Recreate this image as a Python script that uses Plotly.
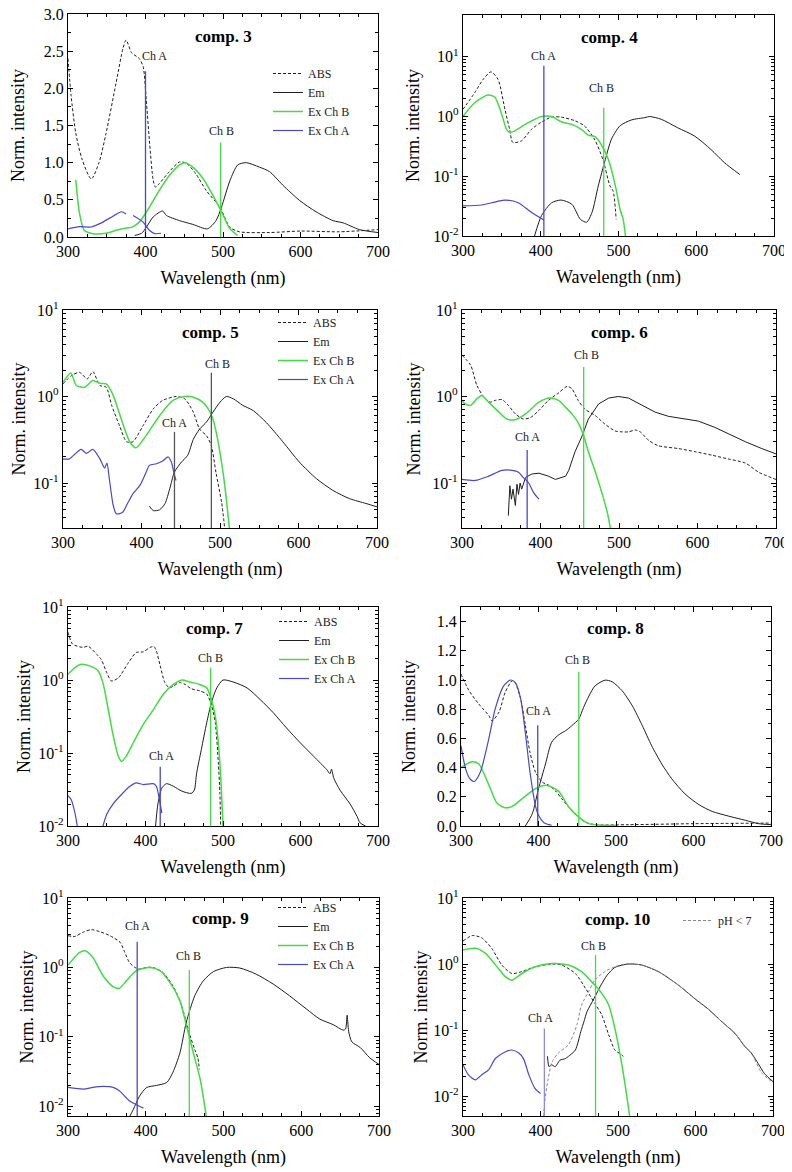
import math
import plotly.graph_objects as go

OFF = 8                      # default page margin of the html body
W, H = 792 - OFF, 1172 - OFF
FONT = "'Liberation Serif', 'Times New Roman', Times, serif"
BLACK = "#1e1e1e"
GREEN = "#42dc42"
BLUE = "#4848cc"
GRAY = "#555555"
LBLUE = "#8c8ce8"

# ---------------- comp. 3 ----------------
C3_ABS_X = [300, 304, 310, 318, 330, 340, 349, 362, 371, 375, 382, 392, 397, 401, 405, 410, 413, 418, 430, 444, 453, 465, 478, 496, 509, 521, 560, 600, 650, 700]
C3_ABS_Y = [2.4, 1.9, 1.4, 1.05, 0.78, 1.0, 1.39, 2.07, 2.54, 2.65, 2.48, 2.4, 2.29, 1.84, 1.30, 0.76, 0.67, 0.72, 0.87, 1.01, 0.99, 0.85, 0.63, 0.40, 0.13, 0.07, 0.06, 0.08, 0.07, 0.10]
C3_EM_X = [386, 395, 401, 410, 422, 427, 444, 461, 480, 491, 498, 509, 519, 530, 547, 560, 577, 599, 620, 642, 655, 676, 700]
C3_EM_Y = [0.02, 0.05, 0.13, 0.27, 0.35, 0.29, 0.22, 0.17, 0.11, 0.22, 0.40, 0.76, 0.97, 1.0, 0.94, 0.88, 0.70, 0.49, 0.34, 0.22, 0.19, 0.10, 0.06]
C3_EXB_X = [310, 315, 321, 332, 349, 362, 375, 382, 392, 405, 418, 431, 444, 451, 461, 474, 487, 498, 509, 519]
C3_EXB_Y = [0.77, 0.31, 0.09, 0.045, 0.05, 0.09, 0.12, 0.13, 0.20, 0.40, 0.63, 0.83, 0.97, 1.0, 0.94, 0.79, 0.56, 0.34, 0.11, 0.02]
C3_EXA_X = [300, 315, 330, 341, 358, 369, 375, None, 384, 397, 405, 412, 420]
C3_EXA_Y = [0.11, 0.14, 0.135, 0.18, 0.28, 0.34, 0.31, None, 0.29, 0.20, 0.09, 0.045, 0.05]
C3_CH_X = [400, 497]
C3_CH_TOP = [2.23, 1.27]

# ---------------- comp. 4 ----------------
C4_ABS_X = [300, 315, 326, 336, 345, 354, 360, 364, 375, 388, 401, 414, 426, 444, 456, 469, 480, 489, 493, 497]
C4_ABS_Y = [1.32, 2.5, 4.2, 5.6, 4.2, 1.3, 0.61, 0.37, 0.39, 0.61, 0.81, 0.98, 0.98, 0.85, 0.70, 0.42, 0.19, 0.069, 0.057, 0.019]
C4_EM_X = [392, 401, 414, 426, 440, 451, 459, 466, 474, 483, 491, 502, 517, 534, 540, 555, 576, 598, 619, 636, 656]
C4_EM_Y = [0.01, 0.022, 0.036, 0.040, 0.034, 0.019, 0.017, 0.025, 0.069, 0.19, 0.42, 0.70, 0.88, 0.96, 1.0, 0.90, 0.65, 0.47, 0.28, 0.17, 0.107]
C4_EXB_X = [300, 315, 332, 341, 349, 356, 360, 366, 384, 401, 414, 427, 440, 453, 461, 470, 479, 487, 496, 502, 506, 509]
C4_EXB_Y = [1.0, 1.7, 2.3, 2.1, 1.17, 0.61, 0.54, 0.57, 0.79, 1.0, 1.0, 0.81, 0.74, 0.60, 0.49, 0.46, 0.32, 0.19, 0.069, 0.028, 0.019, 0.0099]
C4_EXA_X = [300, 324, 341, 354, 371, 388, 404]
C4_EXA_Y = [0.032, 0.033, 0.037, 0.040, 0.036, 0.025, 0.0185]
C4_CH_X = [404, 481]
C4_CH_TOP = [7.1, 1.41]

# ---------------- comp. 5 ----------------
C5_ABS_X = [300, 311, 321, 331, 338, 347, 355, 362, 372, 381, 389, 402, 415, 427, 444, 455, 466, 474, 483, 489, 495, 502, 506]
C5_ABS_Y = [1.4, 1.75, 1.9, 1.6, 1.94, 1.34, 1.28, 0.79, 0.46, 0.30, 0.30, 0.46, 0.72, 0.90, 1.0, 0.94, 0.66, 0.42, 0.35, 0.27, 0.13, 0.06, 0.03]
C5_EM_X = [410, 415, 423, 430, 436, 442, 451, 459, 466, 474, 483, 491, 500, 508, 517, 529, 542, 559, 580, 601, 623, 644, 665, 686, 700]
C5_EM_Y = [0.054, 0.048, 0.049, 0.058, 0.086, 0.134, 0.175, 0.21, 0.32, 0.42, 0.51, 0.66, 0.86, 1.0, 0.94, 0.79, 0.69, 0.50, 0.30, 0.175, 0.112, 0.082, 0.066, 0.058, 0.053]
C5_EXB_X = [300, 310, 317, 328, 338, 347, 355, 364, 372, 385, 393, 406, 423, 440, 455, 466, 478, 485, 491, 497, 504, 508, 512]
C5_EXB_Y = [1.46, 1.87, 1.34, 1.28, 1.53, 1.42, 1.40, 1.03, 0.63, 0.30, 0.255, 0.355, 0.60, 0.90, 1.0, 0.98, 0.86, 0.72, 0.55, 0.32, 0.13, 0.066, 0.03]
C5_EXA_X = [300, 308, 323, 330, 338, 347, 353, 356, 359, 364, 368, 376, 383, 389, 398, 406, 410, 419, 427, 434, 438, 442, 444]
C5_EXA_Y = [0.19, 0.19, 0.245, 0.22, 0.245, 0.19, 0.149, 0.17, 0.112, 0.055, 0.044, 0.046, 0.06, 0.075, 0.094, 0.134, 0.16, 0.167, 0.18, 0.2, 0.175, 0.123, 0.107]
C5_CH_X = [442, 489]
C5_CH_TOP = [0.39, 1.88]

# ---------------- comp. 6 ----------------
C6_ABS_X = [300, 311, 319, 328, 336, 342, 351, 359, 368, 378, 387, 398, 410, 423, 434, 440, 448, 457, 470, 482, 495, 504, 512, 521, 527, 538, 550, 576, 597, 618, 639, 661, 678, 700]
C6_ABS_Y = [3.0, 2.3, 1.34, 0.98, 0.86, 0.90, 0.92, 0.79, 0.63, 0.55, 0.57, 0.69, 0.90, 1.10, 1.31, 1.23, 0.90, 0.71, 0.60, 0.48, 0.40, 0.39, 0.39, 0.41, 0.39, 0.31, 0.27, 0.25, 0.23, 0.21, 0.19, 0.17, 0.133, 0.11]
C6_EM_X = [359, 361, 363, 365, 368, 370, 372, 374, 376, 381, 389, 398, 410, 419, 432, 436, 444, 453, 461, 474, 487, 499, 512, 529, 546, 563, 584, 601, 622, 639, 661, 682, 700]
C6_EM_Y = [0.042, 0.093, 0.065, 0.085, 0.055, 0.097, 0.074, 0.10, 0.085, 0.116, 0.127, 0.13, 0.12, 0.11, 0.12, 0.14, 0.23, 0.35, 0.55, 0.82, 0.96, 1.0, 0.96, 0.79, 0.66, 0.59, 0.55, 0.52, 0.44, 0.37, 0.30, 0.25, 0.217]
C6_EXB_X = [300, 304, 311, 319, 325, 334, 347, 357, 368, 381, 398, 412, 423, 432, 440, 448, 455, 461, 470, 478, 485, 489]
C6_EXB_Y = [0.90, 0.82, 0.79, 0.94, 1.03, 0.86, 0.66, 0.55, 0.54, 0.63, 0.86, 0.96, 0.90, 0.75, 0.63, 0.50, 0.35, 0.23, 0.133, 0.078, 0.046, 0.03]
C6_EXA_X = [300, 317, 334, 351, 364, 372, 378, 385, 391, 398]
C6_EXA_Y = [0.11, 0.107, 0.12, 0.14, 0.14, 0.133, 0.116, 0.10, 0.078, 0.065]
C6_CH_X = [383, 455]
C6_CH_TOP = [0.24, 2.2]

# ---------------- comp. 7 ----------------
C7_ABS_X = [300, 306, 319, 326, 337, 343, 350, 356, 365, 378, 388, 397, 406, 411, 414, 419, 425, 431, 436, 444, 451, 459, 470, 479, 485, 490, 494, 496, 497]
C7_ABS_Y = [4.5, 3.1, 2.8, 2.9, 2.25, 1.9, 1.26, 0.97, 1.07, 1.73, 2.38, 2.43, 2.8, 2.87, 2.5, 1.56, 0.92, 0.78, 0.83, 0.92, 0.87, 0.76, 0.71, 0.64, 0.46, 0.26, 0.073, 0.028, 0.01]
C7_EM_X = [413, 416, 421, 427, 436, 447, 459, 463, 466, 472, 479, 485, 492, 500, 513, 531, 548, 565, 582, 600, 617, 634, 638, 640, 643, 651, 664, 673, 677, 684]
C7_EM_Y = [0.01, 0.020, 0.033, 0.038, 0.035, 0.030, 0.028, 0.031, 0.053, 0.111, 0.26, 0.49, 0.78, 1.0, 0.94, 0.78, 0.54, 0.355, 0.22, 0.137, 0.09, 0.059, 0.052, 0.06, 0.045, 0.031, 0.020, 0.0135, 0.011, 0.01]
C7_EXB_X = [300, 309, 317, 328, 339, 345, 352, 358, 365, 369, 375, 384, 397, 410, 423, 436, 447, 457, 470, 479, 485, 490, 494, 497, 500]
C7_EXB_Y = [1.2, 1.48, 1.64, 1.56, 1.33, 0.92, 0.39, 0.18, 0.09, 0.077, 0.09, 0.137, 0.245, 0.39, 0.64, 0.87, 1.0, 0.94, 0.87, 0.78, 0.54, 0.32, 0.137, 0.048, 0.01]
C7_EXA_X = [300, 304, 309, 312, None, 345, 350, 358, 369, 380, 388, 397, 410, 414, 419, 421]
C7_EXA_Y = [0.026, 0.023, 0.015, 0.0099, None, 0.0099, 0.0145, 0.020, 0.027, 0.035, 0.039, 0.037, 0.038, 0.035, 0.020, 0.015]
C7_CH_X = [419, 484]
C7_CH_TOP = [0.065, 1.48]

# ---------------- comp. 8 ----------------
C8_ABS_X = [300, 310, 323, 336, 340, 349, 357, 366, 370, 377, 383, 389, 396, 405, 413, 422, 430, 439, 450, 460, 473, 516, 602, 700]
C8_ABS_Y = [1.04, 0.93, 0.835, 0.756, 0.72, 0.78, 0.915, 0.995, 0.98, 0.87, 0.69, 0.505, 0.37, 0.30, 0.28, 0.24, 0.187, 0.13, 0.073, 0.027, 0.009, 0.009, 0.016, 0.02]
C8_EM_X = [383, 392, 400, 409, 417, 426, 435, 443, 452, 458, 465, 473, 486, 495, 508, 521, 534, 546, 559, 572, 589, 607, 624, 645, 667, 684, 700]
C8_EM_Y = [0.0, 0.084, 0.255, 0.425, 0.574, 0.624, 0.653, 0.687, 0.733, 0.81, 0.89, 0.96, 0.999, 0.988, 0.926, 0.824, 0.687, 0.55, 0.425, 0.323, 0.22, 0.146, 0.10, 0.068, 0.039, 0.016, 0.009]
C8_EXB_X = [300, 314, 323, 336, 346, 357, 366, 379, 396, 411, 426, 439, 452, 465, 482, 500]
C8_EXB_Y = [0.40, 0.44, 0.425, 0.28, 0.16, 0.125, 0.134, 0.187, 0.255, 0.278, 0.237, 0.13, 0.061, 0.016, 0.005, 0.003]
C8_EXA_X = [300, 306, 312, 317, 325, 336, 344, 355, 364, 370, 377, 383, 389, 396, 400, 407, 417]
C8_EXA_Y = [0.55, 0.39, 0.32, 0.305, 0.37, 0.60, 0.80, 0.96, 1.0, 0.983, 0.87, 0.64, 0.37, 0.14, 0.073, 0.023, 0.005]
C8_CH_X = [399, 452]
C8_CH_TOP = [0.69, 1.056]

# ---------------- comp. 9 ----------------
C9_ABS_X = [300, 309, 319, 330, 341, 354, 367, 373, 379, 386, 392, 401, 409, 422, 435, 444, 450, 457, 463, 467, 469]
C9_ABS_Y = [2.86, 2.8, 3.2, 3.5, 3.27, 2.86, 2.3, 1.65, 1.18, 1.0, 0.95, 1.0, 1.0, 0.85, 0.54, 0.33, 0.2, 0.104, 0.066, 0.05, 0.034]
C9_EM_X = [379, 384, 392, 401, 414, 427, 435, 444, 452, 463, 474, 487, 504, 521, 542, 564, 585, 607, 624, 641, 654, 657, 659, 661, 665, 676, 688, 700]
C9_EM_Y = [0.007, 0.009, 0.014, 0.0186, 0.020, 0.022, 0.031, 0.059, 0.16, 0.39, 0.64, 0.87, 1.0, 0.98, 0.80, 0.575, 0.39, 0.25, 0.18, 0.15, 0.125, 0.13, 0.205, 0.12, 0.085, 0.07, 0.05, 0.04]
C9_EXB_X = [300, 315, 322, 332, 345, 358, 366, 375, 388, 405, 418, 431, 444, 452, 461, 470, 478]
C9_EXB_Y = [1.08, 1.65, 1.74, 1.39, 0.76, 0.53, 0.50, 0.64, 0.90, 1.0, 0.90, 0.61, 0.33, 0.15, 0.06, 0.0245, 0.007]
C9_EXA_X = [300, 320, 332, 345, 358, 366, 379, 388, 397]
C9_EXA_Y = [0.0187, 0.0177, 0.0187, 0.0193, 0.0187, 0.0167, 0.012, 0.0105, 0.0094]
C9_CH_X = [389, 456]
C9_CH_TOP = [2.35, 0.915]

# ---------------- comp. 10 ----------------
C10_ABS_X = [300, 312, 324, 337, 350, 363, 376, 393, 415, 427, 445, 458, 470, 479, 488, 496, 505, 507]
C10_ABS_Y = [2.23, 2.7, 2.5, 1.73, 0.97, 0.72, 0.77, 0.91, 1.0, 0.97, 0.72, 0.43, 0.254, 0.17, 0.085, 0.05, 0.042, 0.04]
C10_EM_X = [409, 411, 414, 419, 425, 432, 436, 445, 452, 456, 460, 469, 478, 486, 496, 513, 530, 552, 578, 599, 616, 634, 651, 664, 672, 681, 689, 700]
C10_EM_Y = [0.04, 0.028, 0.030, 0.028, 0.035, 0.037, 0.04, 0.05, 0.095, 0.134, 0.19, 0.30, 0.48, 0.68, 0.89, 1.0, 0.97, 0.77, 0.48, 0.30, 0.21, 0.134, 0.089, 0.056, 0.045, 0.031, 0.022, 0.0166]
C10_PH_X = [404, 406, 410, 415, 423, 436, 447, 453, 462, 470, 483, 496, 509, 530, 552, 578, 599, 616, 634, 651, 664, 672, 685, 700]
C10_PH_Y = [0.005, 0.0093, 0.0187, 0.033, 0.045, 0.06, 0.12, 0.24, 0.38, 0.57, 0.77, 0.91, 1.0, 0.97, 0.77, 0.48, 0.30, 0.21, 0.134, 0.089, 0.056, 0.045, 0.023, 0.016]
C10_EXB_X = [300, 316, 329, 342, 355, 363, 376, 393, 415, 436, 453, 470, 479, 488, 496, 505, 513, 515]
C10_EXB_Y = [1.63, 1.73, 1.45, 0.97, 0.64, 0.57, 0.72, 0.91, 1.02, 0.97, 0.77, 0.48, 0.36, 0.24, 0.106, 0.03, 0.0074, 0.005]
C10_EXA_X = [300, 307, 316, 324, 333, 342, 355, 363, 372, 378, 385, 393, 400]
C10_EXA_Y = [0.030, 0.021, 0.0176, 0.021, 0.025, 0.0375, 0.047, 0.05, 0.045, 0.037, 0.021, 0.013, 0.011]
C10_CH_X = [405, 471]
C10_CH_TOP = [0.106, 1.37]

X_TICKS = [300, 400, 500, 600, 700]
CH_LABELS = ["Ch A", "Ch B"]

STYLE = {
    "ABS": dict(color=BLACK, width=1, dash="3px,2px"),
    "Em": dict(color=BLACK, width=1),
    "Ex Ch B": dict(color=GREEN, width=1.5),
    "Ex Ch A": dict(color=BLUE, width=1.2),
    "pH < 7": dict(color="#888888", width=1, dash="3px,2px"),
}

# box = screen pixels (left, right, top, bottom) of each plot frame
PANELS = [
    dict(title="comp. 3", box=(68, 378, 14, 237), ytype="linear", yr=[0, 3], dt=0.5, mdt=0.25,
         traces=[("ABS", C3_ABS_X, C3_ABS_Y), ("Em", C3_EM_X, C3_EM_Y), ("Ex Ch B", C3_EXB_X, C3_EXB_Y), ("Ex Ch A", C3_EXA_X, C3_EXA_Y)],
         ch=(C3_CH_X, C3_CH_TOP), chcol=[BLUE, GREEN], lab=[(412, 2.43), (498, 1.43)],
         legend=(268, 59), tpos=(0.50, 0.897), ystand=20),
    dict(title="comp. 4", box=(463, 774, 15, 236), ytype="log", yr=[-2, 1.70],
         traces=[("ABS", C4_ABS_X, C4_ABS_Y), ("Em", C4_EM_X, C4_EM_Y), ("Ex Ch B", C4_EXB_X, C4_EXB_Y), ("Ex Ch A", C4_EXA_X, C4_EXA_Y)],
         ch=(C4_CH_X, C4_CH_TOP), chcol=[BLUE, GREEN], lab=[(404, 10.4), (478, 2.95)],
         legend=None, tpos=(0.47, 0.896), ystand=9),
    dict(title="comp. 5", box=(63, 377, 310, 528), ytype="log", yr=[-1.52, 1],
         traces=[("ABS", C5_ABS_X, C5_ABS_Y), ("Em", C5_EM_X, C5_EM_Y), ("Ex Ch B", C5_EXB_X, C5_EXB_Y), ("Ex Ch A", C5_EXA_X, C5_EXA_Y)],
         ch=(C5_CH_X, C5_CH_TOP), chcol=[GRAY, GRAY], lab=[(442, 0.50), (497, 2.4)],
         legend=(273, 308), tpos=(0.47, 0.895), ystand=3),
    dict(title="comp. 6", box=(462, 776, 310, 528), ytype="log", yr=[-1.52, 1],
         traces=[("ABS", C6_ABS_X, C6_ABS_Y), ("Em", C6_EM_X, C6_EM_Y), ("Ex Ch B", C6_EXB_X, C6_EXB_Y), ("Ex Ch A", C6_EXA_X, C6_EXA_Y)],
         ch=(C6_CH_X, C6_CH_TOP), chcol=[BLUE, GREEN], lab=[(383, 0.34), (458, 3.0)],
         legend=None, tpos=(0.50, 0.895), ystand=7),
    dict(title="comp. 7", box=(68, 378, 607, 826), ytype="log", yr=[-2, 1],
         traces=[("ABS", C7_ABS_X, C7_ABS_Y), ("Em", C7_EM_X, C7_EM_Y), ("Ex Ch B", C7_EXB_X, C7_EXB_Y), ("Ex Ch A", C7_EXA_X, C7_EXA_Y)],
         ch=(C7_CH_X, C7_CH_TOP), chcol=[BLUE, GREEN], lab=[(420, 0.09), (484, 2.0)],
         legend=(274, 607), tpos=(0.474, 0.904), ystand=3),
    dict(title="comp. 8", box=(461, 771, 607, 826), ytype="linear", yr=[0, 1.5], dt=0.2, mdt=0.1,
         traces=[("ABS", C8_ABS_X, C8_ABS_Y), ("Em", C8_EM_X, C8_EM_Y), ("Ex Ch B", C8_EXB_X, C8_EXB_Y), ("Ex Ch A", C8_EXA_X, C8_EXA_Y)],
         ch=(C8_CH_X, C8_CH_TOP), chcol=[BLUE, GREEN], lab=[(400, 0.79), (450, 1.14)],
         legend=None, tpos=(0.497, 0.904), ystand=16),
    dict(title="comp. 9", box=(68, 379, 898, 1116), ytype="log", yr=[-2.14, 1],
         traces=[("ABS", C9_ABS_X, C9_ABS_Y), ("Em", C9_EM_X, C9_EM_Y), ("Ex Ch B", C9_EXB_X, C9_EXB_Y), ("Ex Ch A", C9_EXA_X, C9_EXA_Y)],
         ch=(C9_CH_X, C9_CH_TOP), chcol=[BLUE, GREEN], lab=[(390, 4.0), (455, 1.44)],
         legend=(273, 893), tpos=(0.49, 0.904), ystand=0),
    dict(title="comp. 10", box=(463, 773, 898, 1116), ytype="log", yr=[-2.3, 1],
         traces=[("ABS", C10_ABS_X, C10_ABS_Y), ("Em", C10_EM_X, C10_EM_Y), ("pH < 7", C10_PH_X, C10_PH_Y), ("Ex Ch B", C10_EXB_X, C10_EXB_Y), ("Ex Ch A", C10_EXA_X, C10_EXA_Y)],
         ch=(C10_CH_X, C10_CH_TOP), chcol=[LBLUE, GREEN], lab=[(400, 0.155), (469, 1.9)],
         legend=(678, 906), legend_only=["pH < 7"], tpos=(0.497, 0.90), ystand=1),
]

fig = go.Figure()
layout = dict(
    width=W, height=H, margin=dict(l=0, r=0, t=0, b=0, autoexpand=False),
    paper_bgcolor="white", plot_bgcolor="white",
    font=dict(family=FONT, size=15, color="black"),
    annotations=[],
)

leg_i = 0
for i, p in enumerate(PANELS):
    n = i + 1
    xa = "x" if n == 1 else f"x{n}"
    ya = "y" if n == 1 else f"y{n}"
    xk = "xaxis" if n == 1 else f"xaxis{n}"
    yk = "yaxis" if n == 1 else f"yaxis{n}"
    l, r, t, b = p["box"]
    log = p["ytype"] == "log"

    legid = None
    if p["legend"] is not None:
        leg_i += 1
        legid = "legend" if leg_i == 1 else f"legend{leg_i}"
        lx, ly = p["legend"]
        layout[legid] = dict(x=(lx - OFF) / W, y=1 - (ly - OFF) / H, xanchor="left", yanchor="top",
                             bgcolor="rgba(0,0,0,0)", borderwidth=0,
                             font=dict(family=FONT, size=12, color="#222"),
                             itemwidth=30, tracegroupgap=0)

    for name, xs, ys in p["traces"]:
        st = STYLE[name]
        show = legid is not None and (("legend_only" not in p) or name in p["legend_only"])
        noisy = name == "Em" and p["title"] == "comp. 6"
        fig.add_trace(go.Scatter(
            x=xs, y=ys, mode="lines", name=name, xaxis=xa, yaxis=ya,
            line=dict(color=st["color"], width=st["width"], dash=st.get("dash", "solid"),
                      shape="linear" if noisy else "spline", smoothing=0.7),
            connectgaps=False, showlegend=show, legend=legid if legid else "legend",
            hoverinfo="skip"))

    ybot = 10 ** p["yr"][0] if log else p["yr"][0]
    chx, chtop = p["ch"]
    for k in range(2):
        fig.add_trace(go.Scatter(
            x=[chx[k], chx[k]], y=[ybot, chtop[k]], mode="lines", xaxis=xa, yaxis=ya,
            line=dict(color=p["chcol"][k], width=1.3), showlegend=False, hoverinfo="skip"))
        lxv, lyv = p["lab"][k]
        layout["annotations"].append(dict(
            x=lxv, y=math.log10(lyv) if log else lyv, xref=xa, yref=ya, text=CH_LABELS[k],
            xanchor="center", yanchor="middle",
            showarrow=False, font=dict(family=FONT, size=12, color="#222")))

    layout["annotations"].append(dict(
        x=p["tpos"][0], y=p["tpos"][1], xref=f"{xa} domain", yref=f"{ya} domain",
        text=f"<b>{p['title']}</b>", showarrow=False, xanchor="center", yanchor="middle",
        font=dict(family=FONT, size=17, color="black")))

    layout[xk] = dict(
        domain=[(l - OFF) / W, (r - OFF) / W], anchor=ya, range=[300, 700], automargin=False,
        tickmode="array", tickvals=X_TICKS, ticks="inside", ticklen=5, tickwidth=1,
        tickcolor="black", showline=True, linecolor="black", linewidth=1.2,
        mirror="allticks", showgrid=False, zeroline=False, ticklabeloverflow="allow",
        tickfont=dict(family=FONT, size=16),
        minor=dict(dtick=25, tick0=300, ticks="inside", ticklen=3, tickcolor="black", showgrid=False),
        title=dict(text="Wavelength (nm)", font=dict(family=FONT, size=18), standoff=12),
    )
    ycommon = dict(
        domain=[1 - (b - OFF) / H, 1 - (t - OFF) / H], anchor=xa, automargin=False,
        ticks="inside", ticklen=5, tickwidth=1, ticklabeloverflow="allow",
        tickcolor="black", showline=True, linecolor="black", linewidth=1.2,
        mirror="allticks", showgrid=False, zeroline=False,
        tickfont=dict(family=FONT, size=16),
        title=dict(text="Norm. intensity", font=dict(family=FONT, size=18), standoff=p["ystand"]),
    )
    if log:
        lo = math.floor(p["yr"][0])
        decs = [10 ** e for e in range(lo, 2)]
        minors = [m * 10 ** e for e in range(lo, 1) for m in range(2, 10)]
        ycommon.update(
            type="log", range=p["yr"], tickmode="array", tickvals=decs,
            ticktext=[f"10<sup>{e}</sup>" for e in range(lo, 2)],
            minor=dict(tickmode="array", tickvals=minors, ticks="inside", ticklen=3,
                       tickcolor="black", showgrid=False))
    else:
        ycommon.update(
            type="linear", range=p["yr"], dtick=p["dt"], tick0=0, tickformat=".1f",
            minor=dict(dtick=p["mdt"], tick0=0, ticks="inside", ticklen=3,
                       tickcolor="black", showgrid=False))
    layout[yk] = ycommon

fig.update_layout(**layout)
fig.write_html("out.html")
